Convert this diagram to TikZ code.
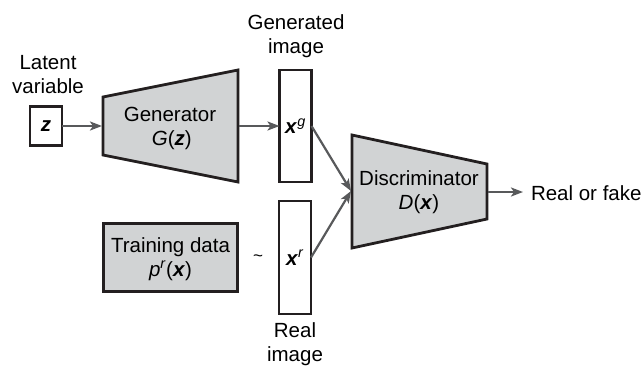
\documentclass[tikz,border=0pt]{standalone}
\usepackage{fontspec}
\setmainfont{Liberation Sans}
\usetikzlibrary{arrows.meta}
\definecolor{edge}{HTML}{231F20}
\definecolor{fillg}{HTML}{D1D3D4}
\definecolor{arr}{HTML}{58595B}
\newcommand{\bx}[1]{\textbf{\textit{#1}}}
\begin{document}
\begin{tikzpicture}[x=1pt,y=-1pt,
  every node/.style={font=\fontsize{20.5}{24}\selectfont, inner sep=0pt, outer sep=0pt},
  lbl/.style={align=center},
  vbox/.style={draw=edge, line width=2.8pt, fill=white},
  gbox/.style={draw=edge, line width=2.8pt, fill=fillg},
  conn/.style={draw=arr, line width=2.2pt, -{Stealth[length=12pt,width=9pt,inset=3pt]}}]
\useasboundingbox (0,0) rectangle (642,365);
% Generator trapezoid
\draw[gbox] (103,97) -- (238,70) -- (238,182) -- (103,155) -- cycle;
\coordinate (Gin) at (102,126);
\coordinate (Gout) at (239,126);
\node[lbl] (gtxt) at (170,128) {Generator\\$\,$\textit{G}(\bx{z})};
% Discriminator trapezoid
\draw[gbox] (352,135) -- (487,164) -- (487,219) -- (352,248) -- cycle;
\coordinate (Din) at (351,191);
\coordinate (Dout) at (488,192);
\node[lbl] (dtxt) at (419,192) {Discriminator\\\textit{D}(\bx{x})};
% boxes
\node[vbox, minimum width=32pt, minimum height=39pt] (z) at (46,126) {\bx{z}};
\node[vbox, minimum width=32pt, minimum height=112pt] (xg) at (295.5,126) {};
\node at (xg) {\bx{x}\textsuperscript{\textit{g}}};
\node[vbox, minimum width=32pt, minimum height=113pt] (xr) at (295,257.5) {};
\node at (xr) {\bx{x}\textsuperscript{\textit{r}}};
\node[gbox, minimum width=134pt, minimum height=68pt] (td) at (170.5,257.5) {};
\node[lbl] (tdtxt) at (170.5,259) {Training data\\\textit{p}\textsuperscript{\textit{r}}(\bx{x})};
\node (tilde) at (258,258) {\fontsize{17}{17}\selectfont\textasciitilde};
% labels
\node[lbl] (lat) at (48,75) {Latent\\variable};
\node[lbl] (gen) at (296,36) {Generated\\image};
\node[lbl] (real) at (295,344) {Real\\image};
\coordinate (outend) at (523,192);
\node[anchor=west] (rf) at (531,193) {Real or fake};
% connectors
\draw[conn] (z.east) -- (Gin);
\draw[conn] (Gout) -- (xg.west);
\draw[conn] (xg.east) -- (Din);
\draw[conn] (xr.east) -- (Din);
\draw[conn] (Dout) -- (outend);
\end{tikzpicture}
\end{document}
